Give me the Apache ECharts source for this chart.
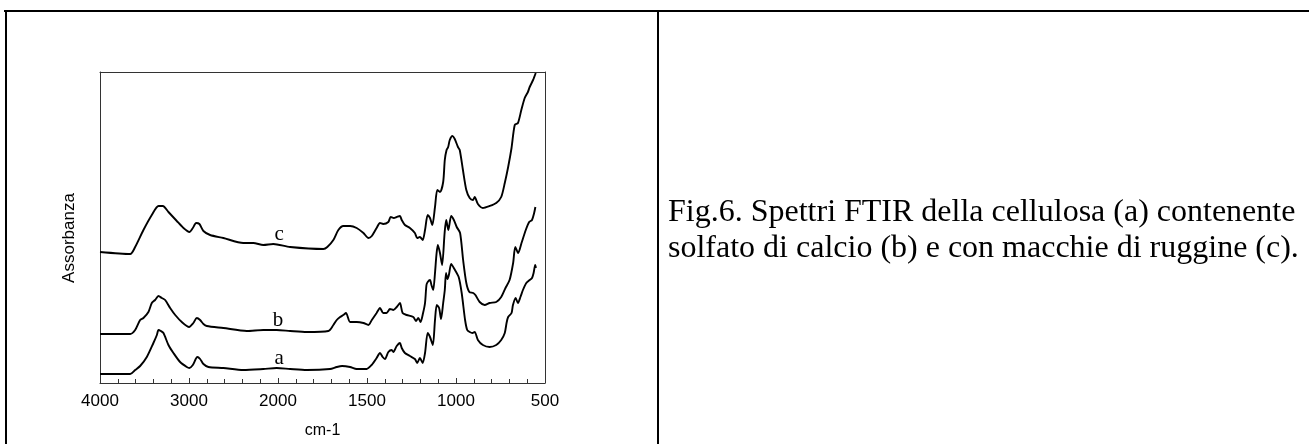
<!DOCTYPE html>
<html>
<head>
<meta charset="utf-8">
<script src="https://cdn.jsdelivr.net/npm/echarts@6/dist/echarts.min.js"></script>
<style>
html,body{margin:0;padding:0;background:#fff;}
#chart{width:1309px;height:444px;}
</style>
</head>
<body>
<div id="chart"></div>
<script>
// Tick labels of the (broken-scale) wavenumber axis, cm-1
const tickLabels = ['4000', '3000', '2000', '1500', '1000', '500'];
const yAxisName = 'Assorbanza';
const xAxisName = 'cm-1';
const captionLines = [
  'Fig.6. Spettri FTIR della cellulosa (a) contenente',
  'solfato di calcio (b) e con macchie di ruggine (c).'
];

// Spectrum a: cellulose  [wavenumber, absorbance (a.u.)]
const traceA = [[4000,9],[3661,9],[3605,13],[3549,17],[3474,26],[3400,40],[3361,48],[3343,53],[3317,52],[3287,50],[3231,38],[3175,30],[3100,21],[3025,16],[2996,15],[2957,18],[2906,26],[2875,24],[2838,19],[2782,16],[2614,15],[2390,13],[2165,14],[2015,15],[1932,14],[1838,13],[1708,14],[1670,16],[1640,17],[1595,16],[1558,14],[1502,14],[1474,18],[1446,25],[1427,30],[1412,26],[1399,24],[1380,31],[1361,33],[1352,31],[1333,37],[1315,40],[1305,35],[1287,30],[1259,27],[1231,24],[1218,20],[1203,25],[1187,20],[1174,30],[1159,50],[1146,46],[1130,38],[1118,63],[1108,78],[1095,75],[1084,64],[1072,80],[1063,93],[1056,110],[1048,104],[1040,108],[1027,119],[1009,114],[985,106],[968,90],[949,63],[937,53],[923,51],[908,50],[895,51],[877,43],[849,38],[811,36],[774,38],[746,43],[726,50],[716,60],[707,66],[688,70],[680,78],[665,85],[652,80],[638,86],[624,93],[605,100],[586,103],[573,105],[564,110],[555,118],[551,115]];

// Spectrum b: cellulose with calcium sulphate
const traceB = [[4000,49],[3661,49],[3605,53],[3549,63],[3512,65],[3456,71],[3418,80],[3381,83],[3343,87],[3305,85],[3268,83],[3212,75],[3155,68],[3081,61],[2999,56],[2951,60],[2912,65],[2875,63],[2838,59],[2800,57],[2614,55],[2351,52],[2165,53],[2015,53],[1932,52],[1838,51],[1717,52],[1689,58],[1670,63],[1651,66],[1633,68],[1618,70],[1595,61],[1558,61],[1520,60],[1492,58],[1473,63],[1446,70],[1427,75],[1409,70],[1390,70],[1371,74],[1352,73],[1333,76],[1315,80],[1300,70],[1277,68],[1240,66],[1225,62],[1212,65],[1199,61],[1185,70],[1174,80],[1166,98],[1159,101],[1146,103],[1138,98],[1128,93],[1118,110],[1110,128],[1102,138],[1090,130],[1078,118],[1064,150],[1055,163],[1043,153],[1027,167],[1012,163],[996,156],[977,150],[960,123],[942,100],[925,91],[903,90],[891,88],[867,81],[839,78],[811,80],[774,81],[746,86],[722,95],[699,103],[679,120],[667,136],[651,130],[632,140],[608,153],[589,161],[573,163],[561,170],[554,176]];

// Spectrum c: cellulose with rust stains
const traceC = [[4000,131],[3661,129],[3605,136],[3512,153],[3418,168],[3343,177],[3294,177],[3231,171],[3137,162],[3062,155],[2995,151],[2957,155],[2920,160],[2883,159],[2838,152],[2763,148],[2614,145],[2390,140],[2277,140],[2165,138],[2053,139],[1932,136],[1745,134],[1723,136],[1689,143],[1661,153],[1633,157],[1595,157],[1558,155],[1520,150],[1492,145],[1473,147],[1446,155],[1427,160],[1409,159],[1380,161],[1367,166],[1349,165],[1333,166],[1315,167],[1305,163],[1287,158],[1259,155],[1231,150],[1218,145],[1203,146],[1187,143],[1174,153],[1159,168],[1146,165],[1133,158],[1118,176],[1105,193],[1090,191],[1072,201],[1063,223],[1053,233],[1044,236],[1035,243],[1020,247],[1007,244],[989,236],[979,233],[961,213],[942,193],[923,185],[905,183],[895,186],[877,179],[849,175],[811,177],[774,180],[746,186],[726,200],[707,216],[688,235],[670,258],[652,260],[633,273],[614,285],[596,291],[586,296],[567,303],[552,310]];

// Curve labels [wavenumber, absorbance, text]
const curveLabels = [[1994,25,'a'],[2000,63,'b'],[1994,149,'c']];

// Broken wavenumber scale: 4000-2000 at 1000 per division, 2000-500 at 500 per division
function toAxis(wn) {
  return wn >= 2000 ? (4000 - wn) / 1000 : 2 + (2000 - wn) / 500;
}
function mapTrace(tr) { return tr.map(p => [toAxis(p[0]), p[1]]); }

const chart = echarts.init(document.getElementById('chart'), null, {renderer: 'canvas'});

const lineStyle = {color: '#000', width: 1.9};
const frameColor = '#333';
const frameAxisLine = {show: true, onZero: false, lineStyle: {color: frameColor, width: 1}};

const option = {
  backgroundColor: '#fff',
  animation: false,
  grid: {left: 100, top: 72, width: 445, height: 311, containLabel: false},
  xAxis: [{
    type: 'value', min: 0, max: 5, interval: 1, position: 'bottom',
    name: xAxisName, nameLocation: 'middle', nameGap: 40,
    nameTextStyle: {fontFamily: 'Liberation Sans', fontSize: 16, color: '#000'},
    axisLine: frameAxisLine,
    axisTick: {show: true, inside: true, length: 5, lineStyle: {color: frameColor}},
    minorTick: {show: true, splitNumber: 5, length: 4, lineStyle: {color: frameColor}},
    axisLabel: {margin: 10, fontFamily: 'Liberation Sans', fontSize: 17, color: '#000',
      formatter: v => tickLabels[Math.round(v)]},
    splitLine: {show: false}
  }, {
    type: 'value', min: 0, max: 5, position: 'top',
    axisLine: frameAxisLine,
    axisTick: {show: false}, axisLabel: {show: false}, splitLine: {show: false}
  }],
  yAxis: [{
    type: 'value', min: 0, max: 311, position: 'left',
    axisLine: frameAxisLine,
    axisTick: {show: false}, axisLabel: {show: false}, splitLine: {show: false}
  }, {
    type: 'value', min: 0, max: 311, position: 'right',
    axisLine: frameAxisLine,
    axisTick: {show: false}, axisLabel: {show: false}, splitLine: {show: false}
  }],
  series: [
    {type: 'line', name: 'a', data: mapTrace(traceA), showSymbol: false, smooth: 0.25, lineStyle: lineStyle},
    {type: 'line', name: 'b', data: mapTrace(traceB), showSymbol: false, smooth: 0.25, lineStyle: lineStyle},
    {type: 'line', name: 'c', data: mapTrace(traceC), showSymbol: false, smooth: 0.25, lineStyle: lineStyle},
    {type: 'scatter', symbolSize: 2, itemStyle: {color: 'rgba(0,0,0,0)', opacity: 1}, silent: true, z: 5,
      data: curveLabels.map(l => ({value: [toAxis(l[0]), l[1]], name: l[2]})),
      label: {show: true, position: 'inside', formatter: p => p.name,
        fontFamily: 'Liberation Serif', fontSize: 21, color: '#000', opacity: 1},
      labelLayout: {hideOverlap: false}}
  ],
  graphic: [
    {type: 'line', shape: {x1: 4, y1: 11, x2: 1309, y2: 11}, style: {stroke: '#000', lineWidth: 2}},
    {type: 'line', shape: {x1: 6, y1: 10, x2: 6, y2: 444}, style: {stroke: '#000', lineWidth: 2}},
    {type: 'line', shape: {x1: 658, y1: 10, x2: 658, y2: 444}, style: {stroke: '#000', lineWidth: 2}},
    {type: 'text', x: 69, y: 238, rotation: Math.PI / 2,
      style: {text: yAxisName, font: '17px "Liberation Sans"', fill: '#000', align: 'center', verticalAlign: 'middle'}},
    {type: 'text', left: 668, top: 197, style: {text: captionLines[0], font: '32px "Liberation Serif"', fill: '#000'}},
    {type: 'text', left: 668, top: 233, style: {text: captionLines[1], font: '32px "Liberation Serif"', fill: '#000'}}
  ]
};
chart.setOption(option);
</script>
</body>
</html>
